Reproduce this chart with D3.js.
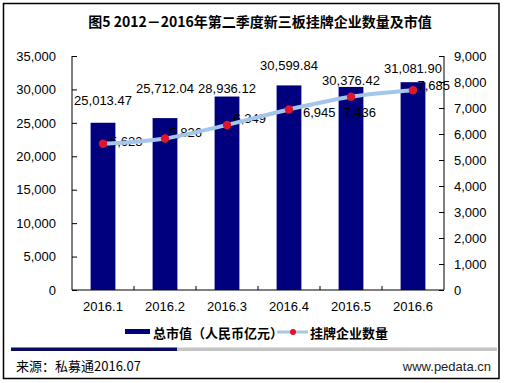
<!DOCTYPE html>
<html><head><meta charset="utf-8">
<script src="https://cdn.jsdelivr.net/npm/d3@7"></script>
<style>
html,body{margin:0;padding:0;background:#fff;}
svg{display:block;}
text{font-family:"Liberation Sans",Arial,sans-serif;}
.cjk{font-family:"Noto Sans CJK SC","Noto Sans",sans-serif;}
</style></head>
<body>
<script>
// ---- data ----
const categories = ["2016.1","2016.2","2016.3","2016.4","2016.5","2016.6"];
const marketValue = [25013.47, 25712.04, 28936.12, 30599.84, 30376.42, 31081.90]; // 总市值（人民币亿元）
const listedCount = [5623, 5826, 6349, 6945, 7436, 7685];                         // 挂牌企业数量
const leftTicks = [0,5000,10000,15000,20000,25000,30000,35000];
const rightTicks = [0,1000,2000,3000,4000,5000,6000,7000,8000,9000];
const titleText = "图5 2012－2016年第二季度新三板挂牌企业数量及市值";
const legendLabels = ["总市值（人民币亿元）","挂牌企业数量"];
const sourceText = "来源：私募通2016.07";
const siteText = "www.pedata.cn";

// label placement tweaks (layout, px)
const barLabelDy = [-18, -25, -3.5, -15.5, -2, -9];
const lineLabelDx = [7, 4.5, 6.5, 14, -7.5, 4.5];
const lineLabelDy = [1.7, -1.5, -2, 7.6, 20, 0];

const W = 510, H = 383;
const X0 = 72, X1 = 444, Y0 = 290, Y1 = 56;
const navy = "#00007f", lineBlue = "#a3c6ea", red = "#e0152c";

const svg = d3.select("body").append("svg").attr("width", W).attr("height", H);

// frame
svg.append("rect").attr("x",3.5).attr("y",3.5).attr("width",495.5).attr("height",375)
  .attr("fill","none").attr("stroke","#000").attr("stroke-width",1.5);

// title
svg.append("text").attr("class","cjk").attr("x",260).attr("y",27)
  .attr("text-anchor","middle").attr("font-size",14).attr("font-weight","bold")
  .attr("fill","#000").text(titleText);

const x = d3.scaleBand().domain(categories).range([X0, X1]).paddingInner(0.6).paddingOuter(0.3);
const xPos = d3.scalePoint().domain(categories).range([X0, X1]).padding(0.5);
const yL = d3.scaleLinear().domain([0, 35000]).range([Y0, Y1]);
const yR = d3.scaleLinear().domain([0, 9000]).range([Y0, Y1]);

const fmtInt = d3.format(",");
const fmt2 = d3.format(",.2f");

// axes
const gL = svg.append("g").attr("transform",`translate(${X0},0)`)
  .call(d3.axisRight(yL).tickValues(leftTicks).tickSize(5).tickFormat(""));
const gR = svg.append("g").attr("transform",`translate(${X1},0)`)
  .call(d3.axisLeft(yR).tickValues(rightTicks).tickSize(5).tickFormat(""));
[gL,gR].forEach(g=>{ g.select(".domain").attr("stroke","#000").attr("d", `M0,${Y1}V${Y0}`);
  g.selectAll(".tick line").attr("stroke","#000"); });

// left tick labels
svg.append("g").selectAll("text").data(leftTicks).join("text")
  .attr("x",56).attr("y",d=>yL(d)).attr("dy","0.36em").attr("text-anchor","end")
  .attr("font-size",13).attr("fill","#000").text(d=>fmtInt(d));
svg.append("g").selectAll("text").data(rightTicks).join("text")
  .attr("x",454).attr("y",d=>yR(d)).attr("dy","0.36em").attr("text-anchor","start")
  .attr("font-size",13).attr("fill","#000").text(d=>fmtInt(d));

// bottom axis
const step = x.step();
const gB = svg.append("g").attr("transform",`translate(0,${Y0})`);
gB.append("line").attr("x1",X0).attr("x2",X1).attr("y1",0).attr("y2",0).attr("stroke","#000");
gB.selectAll("line.t").data(categories.slice(1)).join("line").attr("class","t")
  .attr("x1",d=>xPos(d)-step/2).attr("x2",d=>xPos(d)-step/2).attr("y1",0).attr("y2",-4).attr("stroke","#000");
gB.selectAll("text").data(categories).join("text")
  .attr("x",d=>xPos(d)).attr("y",21).attr("text-anchor","middle").attr("font-size",13).attr("fill","#000").text(d=>d);

// bars
svg.append("g").selectAll("rect").data(marketValue).join("rect")
  .attr("x",(d,i)=>x(categories[i])).attr("width",x.bandwidth())
  .attr("y",d=>yL(d)).attr("height",d=>Y0-yL(d)).attr("fill",navy);

// bar labels
svg.append("g").selectAll("text").data(marketValue).join("text")
  .attr("x",(d,i)=>xPos(categories[i])).attr("y",(d,i)=>yL(d)+barLabelDy[i])
  .attr("text-anchor","middle").attr("font-size",13).attr("fill","#000").text(d=>fmt2(d));

// line labels
svg.append("g").selectAll("text").data(listedCount).join("text")
  .attr("x",(d,i)=>xPos(categories[i])+lineLabelDx[i]).attr("y",(d,i)=>yR(d)+lineLabelDy[i])
  .attr("font-size",13).attr("fill","#000").text(d=>fmtInt(d));

// line
const line = d3.line().x((d,i)=>xPos(categories[i])).y(d=>yR(d)).curve(d3.curveMonotoneX);
svg.append("path").datum(listedCount).attr("d",line).attr("fill","none")
  .attr("stroke",lineBlue).attr("stroke-width",4).attr("stroke-linecap","round");
svg.append("g").selectAll("circle").data(listedCount).join("circle")
  .attr("cx",(d,i)=>xPos(categories[i])).attr("cy",d=>yR(d)).attr("r",4.2).attr("fill",red);

// legend
const lg = svg.append("g");
lg.append("rect").attr("x",125).attr("y",329).attr("width",25).attr("height",5).attr("fill",navy);
lg.append("text").attr("class","cjk").attr("x",153).attr("y",338).attr("font-size",13)
  .attr("font-weight","bold").attr("fill","#000").text(legendLabels[0]);
lg.append("line").attr("x1",277).attr("x2",308).attr("y1",332).attr("y2",332)
  .attr("stroke",lineBlue).attr("stroke-width",3);
lg.append("circle").attr("cx",293).attr("cy",332).attr("r",3).attr("fill",red);
lg.append("text").attr("class","cjk").attr("x",310).attr("y",338).attr("font-size",13)
  .attr("font-weight","bold").attr("fill","#000").text(legendLabels[1]);

// separator
svg.append("rect").attr("x",11).attr("y",347.5).attr("width",166).attr("height",3.5).attr("fill","#0a0a5e");
svg.append("rect").attr("x",177).attr("y",347.5).attr("width",320).attr("height",3.5).attr("fill","#c4c4c4");

// source
svg.append("text").attr("class","cjk").attr("x",16).attr("y",371).attr("font-size",13)
  .attr("fill","#000").text(sourceText);
svg.append("text").attr("x",491).attr("y",371).attr("text-anchor","end").attr("font-size",13)
  .attr("fill","#222").text(siteText);
</script>
</body></html>
